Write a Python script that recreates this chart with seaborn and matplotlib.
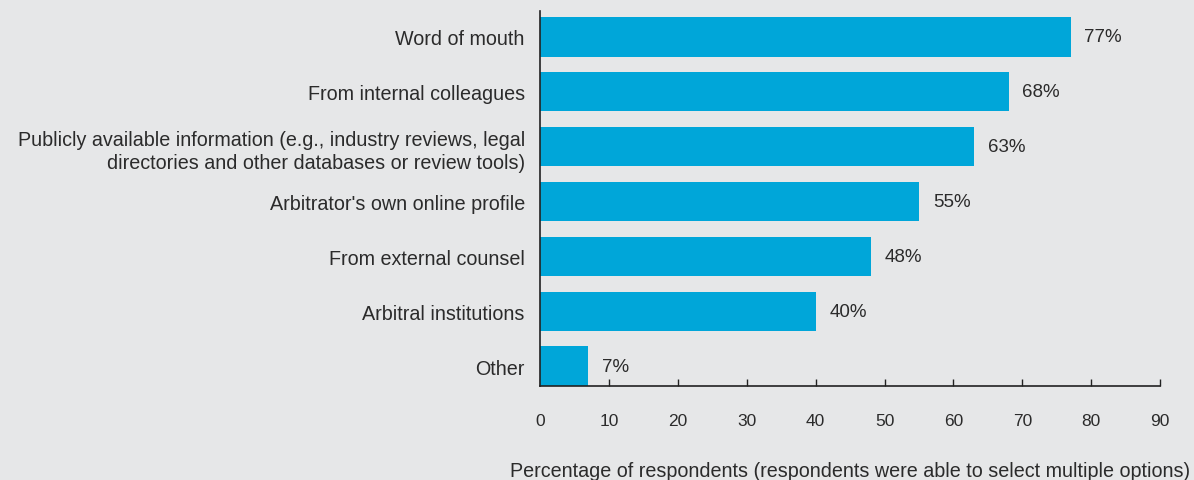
import matplotlib
matplotlib.use("Agg")
import matplotlib.pyplot as plt
import seaborn as sns
import pandas as pd

# ---------- data ----------
categories = [
    "Word of mouth",
    "From internal colleagues",
    "Publicly available information (e.g., industry reviews, legal\ndirectories and other databases or review tools)",
    "Arbitrator's own online profile",
    "From external counsel",
    "Arbitral institutions",
    "Other",
]
values = [77, 68, 63, 55, 48, 40, 7]
x_ticks = [0, 10, 20, 30, 40, 50, 60, 70, 80, 90]
x_label = "Percentage of respondents (respondents were able to select multiple options)"

BG = "#e6e7e8"
BAR = "#00a6d9"
TXT = "#2b2b2b"

sns.set_theme(style="white")
plt.rcParams["font.family"] = ["Liberation Sans", "DejaVu Sans"]

df = pd.DataFrame({"source": categories, "pct": values})

fig = plt.figure(figsize=(11.94, 4.81), dpi=100, facecolor=BG)
ax = fig.add_axes([0.4523, 0.1954, 0.5193, 0.7796])
ax.set_facecolor(BG)

sns.barplot(data=df, x="pct", y="source", color=BAR, width=0.72,
            saturation=1, ax=ax, orient="h", linewidth=0, edgecolor="none")

for i, v in enumerate(values):
    ax.text(v + 2.0, i, f"{v}%", va="center", ha="left", fontsize=13.5, color=TXT)

ax.set_xlim(0, 90)
ax.set_ylim(6.36, -0.47)
ax.set_xticks(x_ticks)
ax.set_xticklabels([str(t) for t in x_ticks])
ax.set_xlabel(x_label, fontsize=14.2, color=TXT, labelpad=23.5)
ax.set_ylabel("")

for s in ["top", "right"]:
    ax.spines[s].set_visible(False)
for s in ["left", "bottom"]:
    ax.spines[s].set_color("#222222")
    ax.spines[s].set_linewidth(1.2)

ax.tick_params(axis="x", bottom=True, direction="in", length=5, width=1,
               color="#222222", pad=19.5, labelsize=12.5, labelcolor=TXT)
ax.tick_params(axis="y", left=False, length=0, pad=11, labelsize=14.2, labelcolor=TXT)
for lbl in ax.get_yticklabels():
    lbl.set_linespacing(1.3)

fig.savefig("out.png", dpi=100, facecolor=BG)
